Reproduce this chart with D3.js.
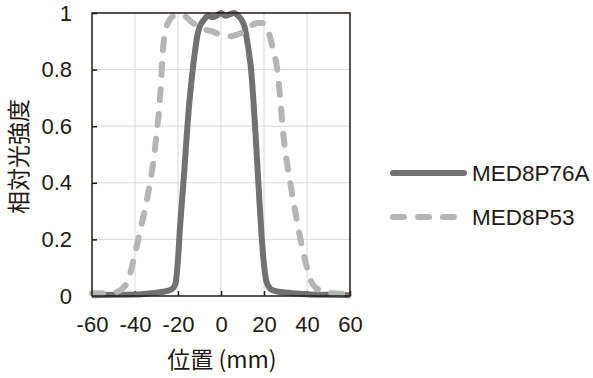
<!DOCTYPE html>
<html>
<head>
<meta charset="utf-8">
<script src="https://cdn.jsdelivr.net/npm/d3@7"></script>
<style>
  body { margin: 0; background: #fff; }
  svg { display: block; font-family: "Liberation Sans", Arial, "Noto Sans CJK JP", sans-serif; }
</style>
</head>
<body>
<div id="chart"></div>
<script>
// position (mm) and relative intensity
const posA = [-60, -50, -40, -35, -30, -27, -24, -22, -21, -20, -19, -18, -17, -16, -15, -14, -13, -12, -11, -10, -9, -8, -6, -4, -2, 0, 2, 4, 6, 8, 10, 11, 12, 13, 14, 15, 16, 17, 18, 19, 20, 21, 22, 24, 27, 30, 35, 40, 50, 60];
const valA = [0.003, 0.004, 0.005, 0.008, 0.012, 0.015, 0.02, 0.03, 0.05, 0.13, 0.25, 0.35, 0.45, 0.56, 0.66, 0.74, 0.81, 0.87, 0.92, 0.95, 0.965, 0.975, 0.99, 0.985, 0.99, 1.0, 0.99, 0.995, 1.0, 0.99, 0.97, 0.95, 0.91, 0.86, 0.8, 0.7, 0.58, 0.45, 0.32, 0.2, 0.11, 0.055, 0.035, 0.02, 0.015, 0.012, 0.009, 0.006, 0.004, 0.003];

const posB = [-60, -55, -50, -46, -43, -40, -37, -35, -33, -31, -30, -29, -28, -27.5, -27, -26, -24, -22, -19, -16, -14, -12, -10, -7, -4, -1, 2, 5, 8, 11, 14, 17, 19, 21, 23, 24.5, 26, 27.5, 29, 30.5, 32, 34, 37, 40, 42, 44, 48, 52, 56, 60];
const valB = [0.01, 0.01, 0.012, 0.025, 0.06, 0.15, 0.25, 0.32, 0.4, 0.5, 0.57, 0.64, 0.74, 0.81, 0.87, 0.93, 0.975, 0.99, 0.996, 0.985, 0.97, 0.96, 0.95, 0.94, 0.935, 0.925, 0.92, 0.918, 0.925, 0.935, 0.955, 0.965, 0.965, 0.955, 0.91, 0.86, 0.81, 0.7, 0.57, 0.48, 0.41, 0.32, 0.2, 0.1, 0.05, 0.03, 0.015, 0.01, 0.008, 0.01];

const seriesNames = ["MED8P76A", "MED8P53"];
const xTicks = [-60, -40, -20, 0, 20, 40, 60];
const yTicks = [0, 0.2, 0.4, 0.6, 0.8, 1];

const width = 593, height = 378;
const margins = { top: 13, right: 243, bottom: 82, left: 92 };
const frameColor = "#231815";
const colA = "#717171", colB = "#b5b5b5";

const svg = d3.select("#chart").append("svg")
    .attr("width", width)
    .attr("height", height);

const x = d3.scaleLinear().domain([-60, 60]).range([margins.left, width - margins.right]);
const y = d3.scaleLinear().domain([0, 1]).range([height - margins.bottom, margins.top]);

// grid
svg.append("g").selectAll("line")
    .data(xTicks.slice(1, -1))
    .join("line")
    .attr("x1", d => x(d)).attr("x2", d => x(d))
    .attr("y1", y(0)).attr("y2", y(1))
    .attr("stroke", "#d9d9d9").attr("stroke-width", 1);
svg.append("g").selectAll("line")
    .data(yTicks.slice(1, -1))
    .join("line")
    .attr("x1", x(-60)).attr("x2", x(60))
    .attr("y1", d => y(d)).attr("y2", d => y(d))
    .attr("stroke", "#d9d9d9").attr("stroke-width", 1);

// axes with inward ticks
const gx = svg.append("g")
    .attr("transform", `translate(0,${y(0)})`)
    .call(d3.axisBottom(x).tickValues(xTicks).tickFormat(d => String(d)).tickSize(-5).tickPadding(20).tickSizeOuter(0))
    .call(g => g.select(".domain").remove());
gx.selectAll(".tick line").attr("stroke", frameColor).attr("stroke-width", 1.5);
gx.selectAll("text").attr("font-size", 22).attr("fill", "#231815")
    .attr("font-family", "'Liberation Sans', Arial, sans-serif");

const gy = svg.append("g")
    .attr("transform", `translate(${x(-60)},0)`)
    .call(d3.axisLeft(y).tickValues(yTicks).tickFormat(d => String(d)).tickSize(-5).tickPadding(20).tickSizeOuter(0))
    .call(g => g.select(".domain").remove());
gy.selectAll(".tick line").attr("stroke", frameColor).attr("stroke-width", 1.5);
gy.selectAll("text").attr("font-size", 22).attr("fill", "#231815")
    .attr("font-family", "'Liberation Sans', Arial, sans-serif");

// lines
const line = d3.line()
    .x(d => x(d[0]))
    .y(d => y(d[1]))
    .curve(d3.curveMonotoneX);

svg.append("path")
    .datum(posA.map((p, i) => [p, valA[i]]))
    .attr("d", line)
    .attr("fill", "none")
    .attr("stroke", colA)
    .attr("stroke-width", 6)
    .attr("stroke-linejoin", "round");

svg.append("path")
    .datum(posB.map((p, i) => [p, valB[i]]))
    .attr("d", line)
    .attr("fill", "none")
    .attr("stroke", colB)
    .attr("stroke-width", 6)
    .attr("stroke-linecap", "round")
    .attr("stroke-dasharray", "11,14");

// frame
svg.append("rect")
    .attr("x", x(-60)).attr("y", y(1))
    .attr("width", x(60) - x(-60)).attr("height", y(0) - y(1))
    .attr("fill", "none")
    .attr("stroke", frameColor)
    .attr("stroke-width", 1.5);

// axis titles
svg.append("text")
    .attr("x", (x(-60) + x(60)) / 2 + 1)
    .attr("y", 368)
    .attr("text-anchor", "middle")
    .attr("font-size", 23)
    .attr("fill", "#231815")
    .attr("font-family", "'Noto Sans CJK JP', sans-serif")
    .text("位置 (mm)");

svg.append("text")
    .attr("transform", `translate(27,${(y(0) + y(1)) / 2 + 2}) rotate(-90)`)
    .attr("text-anchor", "middle")
    .attr("font-size", 23)
    .attr("fill", "#231815")
    .attr("font-family", "'Noto Sans CJK JP', sans-serif")
    .text("相対光強度");

// legend
const legend = svg.append("g");
const legY = [173, 217];
const legStyles = [
    { color: colA, dash: null },
    { color: colB, dash: "11,14" }
];
seriesNames.forEach((name, i) => {
    legend.append("line")
        .attr("x1", 393).attr("x2", 464)
        .attr("y1", legY[i]).attr("y2", legY[i])
        .attr("stroke", legStyles[i].color)
        .attr("stroke-width", 6)
        .attr("stroke-linecap", "round")
        .attr("stroke-dasharray", legStyles[i].dash);
    legend.append("text")
        .attr("x", 472)
        .attr("y", legY[i] + 8)
        .attr("font-size", 22.5)
        .attr("fill", "#231815")
        .text(name);
});
</script>
</body>
</html>
